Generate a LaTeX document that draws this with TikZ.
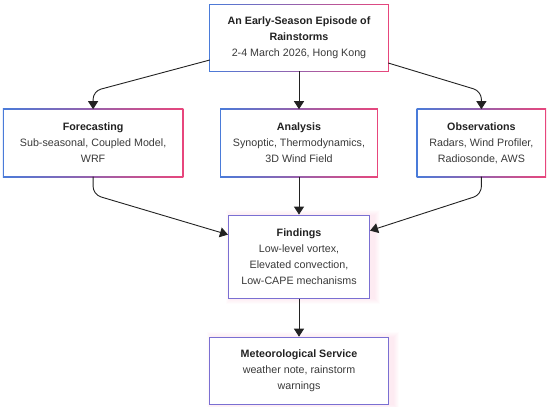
\documentclass[tikz,border=0pt]{standalone}
\usepackage{fontspec}
\setmainfont{Liberation Sans}
\definecolor{flowBlue}{HTML}{4A7BD9}
\definecolor{flowPink}{HTML}{E8467C}
\definecolor{flowPurple}{HTML}{7A6FD2}
\definecolor{flowText}{HTML}{3A3A3A}
\definecolor{flowHead}{HTML}{222222}
\definecolor{flowGlow}{HTML}{F06C9B}
\usetikzlibrary{arrows.meta, positioning, calc, backgrounds}
\newcommand{\boxhead}[1]{\textcolor{flowHead}{\textbf{#1}}}

\begin{document}
\begin{tikzpicture}[
  x=1pt, y=1pt,
  box/.style={minimum height=67pt, inner sep=0pt, align=center, text=flowText,
    font=\fontsize{10.7}{16}\selectfont},
  plainbox/.style={box, draw=flowPurple, line width=1.1pt, fill=white},
  arr/.style={-{Triangle[length=8pt, width=10pt]}, line width=0.9pt, draw=flowHead,
    rounded corners=8pt},
  node distance=38pt
]
  \useasboundingbox (0,0) rectangle (550,-407);

  % Nodes
  \node[box, minimum width=178pt, minimum height=66pt] (event) at (299,-38)
    {\boxhead{An Early-Season Episode of}\\\boxhead{Rainstorms}\\2-4 March 2026, Hong Kong};
  \node[box, minimum width=156pt, below=38pt of event] (analysis)
    {\boxhead{Analysis}\\Synoptic, Thermodynamics,\\3D Wind Field};
  \node[box, minimum width=179pt, left=38pt of analysis] (forecast)
    {\boxhead{Forecasting}\\Sub-seasonal, Coupled Model,\\WRF};
  \node[box, minimum width=128pt, right=40pt of analysis] (obs)
    {\boxhead{Observations}\\Radars, Wind Profiler,\\Radiosonde, AWS};
  \node[plainbox, minimum width=141pt, minimum height=83pt, below=38pt of analysis] (findings)
    {\boxhead{Findings}\\Low-level vortex,\\Elevated convection,\\Low-CAPE mechanisms};
  \node[plainbox, minimum width=179pt, below=38pt of findings] (service)
    {\boxhead{Meteorological Service}\\weather note, rainstorm\\warnings};

  % Borders and glow
  \begin{scope}[on background layer]
    \foreach \n in {event, forecast, analysis, obs} {
      \shade[left color=flowBlue, right color=flowPink]
        ([shift={(-0.6,-0.6)}]\n.south west) rectangle ([shift={(0.6,0.6)}]\n.north east);
      \fill[white] ([shift={(0.6,0.6)}]\n.south west) rectangle ([shift={(-0.6,-0.6)}]\n.north east);
    }
    \foreach \n in {findings, service}
      \foreach \g in {1,...,6}
        \fill[flowGlow, opacity=0.022]
          ([shift={(-\g+4,-\g+1)}]\n.south west) rectangle ([shift={(\g+4,\g-1)}]\n.north east);
  \end{scope}

  % Paths
  \draw[arr] (event) -- (analysis);
  \draw[arr] ([yshift=-22pt]event.west) -- ($(forecast.north)+(0,18)$) -- (forecast.north);
  \draw[arr] ([yshift=-25pt]event.east) -- ($(obs.north)+(0,18)$) -- (obs.north);
  \draw[arr] (forecast.south) -- ($(forecast.south)+(0,-18)$) -- ([yshift=22pt]findings.west);
  \draw[arr] (obs.south) -- ($(obs.south)+(0,-18)$) -- ([yshift=26pt]findings.east);
  \draw[arr] (analysis) -- (findings);
  \draw[arr] (findings) -- (service);
\end{tikzpicture}
\end{document}
